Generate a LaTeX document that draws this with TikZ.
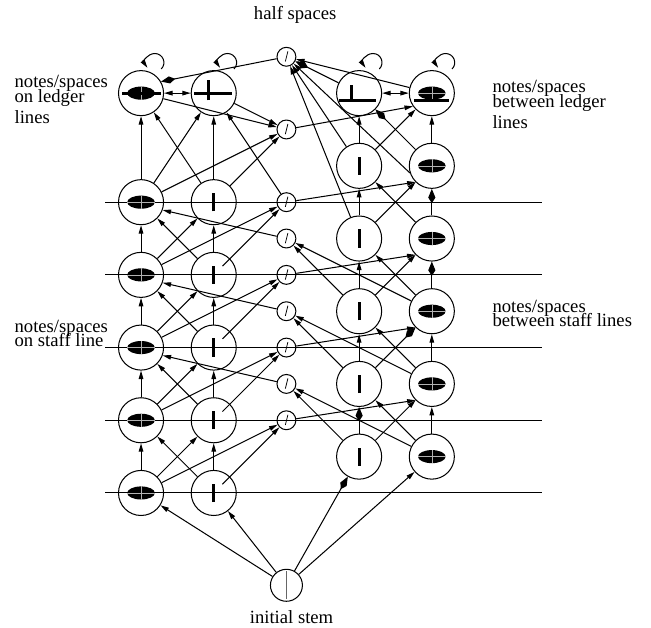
\documentclass[tikz,border=0pt]{standalone}
\usepackage{fontspec}
\setmainfont{Liberation Serif}
\usetikzlibrary{arrows.meta}

% glyphs drawn inside the state circles
\newcommand{\headgl}[2]{%
	\fill ([shift={(#1,#2)}]path picture bounding box.center) ellipse (0.19 and 0.09);
	\draw[black!30,line width=0.2pt] ([shift={(#1-0.19,#2)}]path picture bounding box.center) -- ++(0.38,0);
	\draw[black!30,line width=0.2pt] ([shift={(#1,#2-0.09)}]path picture bounding box.center) -- ++(0,0.18);}
\newcommand{\bargl}[4]{%
	\draw[line width=1.15pt] ([shift={(#1,#2)}]path picture bounding box.center) -- ([shift={(#3,#4)}]path picture bounding box.center);}
\newcommand{\tightlines}{\fontsize{7.3}{5.8}\selectfont\lineskiplimit -10pt\relax}
% small loop drawn over a ledger state, #1 = x of the state
\newcommand{\selfloop}[1]{%
	\draw (#1+0.278,5.832) .. controls (#1+0.357,5.911) and (#1+0.301,6.045) .. (#1+0.19,6.045)
		.. controls (#1+0.089,6.045) and (#1+0.030,5.931) .. (#1+0.088,5.848);}

\begin{document}
\begin{tikzpicture}[line width=0.4pt,
	circ/.style={draw,circle,minimum size=0.62cm,inner sep=0},
	nhead/.style={circ,path picture={\headgl{0}{0}}},
	nstem/.style={circ,path picture={\bargl{0}{-0.125}{0}{0.125}}},
	ledhead/.style={circ,path picture={\headgl{0}{0}\bargl{-0.26}{0}{0.28}{0}}},
	ledstem/.style={circ,path picture={\bargl{-0.27}{0}{0.255}{0}\bargl{-0.075}{-0.1}{-0.075}{0.18}}},
	bledstem/.style={circ,path picture={\bargl{-0.11}{-0.1}{-0.11}{0.11}\bargl{-0.275}{-0.1}{0.23}{-0.1}}},
	bledhead/.style={circ,path picture={\headgl{0}{0}\bargl{-0.24}{-0.1}{0.24}{-0.1}}},
	half/.style={draw,circle,minimum size=0.26cm,inner sep=0,path picture={\draw[line width=0.3pt] ([shift={(0.02,0.075)}]path picture bounding box.center) -- ([shift={(-0.015,-0.065)}]path picture bounding box.center);}},
	startst/.style={draw,circle,minimum size=0.44cm,inner sep=0,path picture={\draw[black!60,line width=0.3pt] ([shift={(0,-0.19)}]path picture bounding box.center) -- ++(0,0.38);}},
	lab/.style={font=\tightlines,align=left,inner sep=0},
	arr/.style={-{Triangle[length=3.3pt,width=1.8pt]}},
	karr/.style={-{Kite[length=5.6pt,width=2.8pt,inset=2.2pt]}},
	darr/.style={{Triangle[length=3.3pt,width=1.8pt]}-{Triangle[length=3.3pt,width=1.8pt]}}]
	
	\useasboundingbox (-1.94,-1.857) rectangle (7.015,6.781);
	
	%staff lines
	\draw (-0.495,0) -- (5.52,0);
	\draw (-0.495,1) -- (5.52,1);
	\draw (-0.495,2) -- (5.52,2);
	\draw (-0.495,3) -- (5.52,3);
	\draw (-0.495,4) -- (5.52,4);
	
	%ledger row
	\node[ledhead] (A0) at (0,5.5) {};
	\node[ledstem] (B0) at (1,5.5) {};
	\node[bledstem] (C0) at (3,5.5) {};
	\node[bledhead] (D0) at (4,5.5) {};
	%on the lines
	\node[nhead] (A1) at (0,4) {};
	\node[nhead] (A2) at (0,3) {};
	\node[nhead] (A3) at (0,2) {};
	\node[nhead] (A4) at (0,1) {};
	\node[nhead] (A5) at (0,0) {};
	\node[nstem] (B1) at (1,4) {};
	\node[nstem] (B2) at (1,3) {};
	\node[nstem] (B3) at (1,2) {};
	\node[nstem] (B4) at (1,1) {};
	\node[nstem] (B5) at (1,0) {};
	%between the lines
	\node[nstem] (C1) at (3,4.5) {};
	\node[nstem] (C2) at (3,3.5) {};
	\node[nstem] (C3) at (3,2.5) {};
	\node[nstem] (C4) at (3,1.5) {};
	\node[nstem] (C5) at (3,0.5) {};
	\node[nhead] (D1) at (4,4.5) {};
	\node[nhead] (D2) at (4,3.5) {};
	\node[nhead] (D3) at (4,2.5) {};
	\node[nhead] (D4) at (4,1.5) {};
	\node[nhead] (D5) at (4,0.5) {};
	%half spaces
	\node[half] (H0) at (2,6) {};
	\node[half] (H1) at (2,5) {};
	\node[half] (H2) at (2,4) {};
	\node[half] (H3) at (2,3.5) {};
	\node[half] (H4) at (2,3) {};
	\node[half] (H5) at (2,2.5) {};
	\node[half] (H6) at (2,2) {};
	\node[half] (H7) at (2,1.5) {};
	\node[half] (H8) at (2,1) {};
	\node[startst] (S) at (2,-1.27) {};
	
	%labels
	\node[lab,anchor=base] (halfl) at (2.12,6.506) {half spaces};
	\node[lab,anchor=base west] (ledgl) at (-1.746,5.085) {notes/spaces\\on ledger\\[2.3pt]lines};
	\node[lab,anchor=base west] (bledgl) at (4.828,5.02) {notes/spaces\\between ledger\\[2.3pt]lines};
	\node[lab,anchor=base west] (staffl) at (-1.746,2.008) {notes/spaces\\on staff line};
	\node[lab,anchor=base west] (bstaffl) at (4.828,2.283) {notes/spaces\\between staff lines};
	\node[lab,anchor=base] (initl) at (2.07,-1.80) {initial stem};
	
	\begin{scope}[arr]
	%edges from the initial stem
	\draw (S) -- (A5);
	\draw (S) -- (B5);
	\draw[karr] (S) -- (C5);
	\draw (S) -- (D5);
	%on the lines, upwards
	\draw (A1) -- (A0);
	\draw (A1) -- (B0);
	\draw (B1) -- (A0);
	\draw (B1) -- (B0);
	\draw (A2) -- (A1);
	\draw (A2) -- (B1);
	\draw (B2) -- (A1);
	\draw (B2) -- (B1);
	\draw (A3) -- (A2);
	\draw (A3) -- (B2);
	\draw (B3) -- (A2);
	\draw (B3) -- (B2);
	\draw (A4) -- (A3);
	\draw (A4) -- (B3);
	\draw (B4) -- (A3);
	\draw (B4) -- (B3);
	\draw (A5) -- (A4);
	\draw (A5) -- (B4);
	\draw (B5) -- (A4);
	\draw (B5) -- (B4);
	%into the half spaces on lines
	\draw (A0) -- (H1);
	\draw (B0) -- (H1);
	\draw (A1) -- (H1);
	\draw (B1) -- (H1);
	\draw (A2) -- (H2);
	\draw[shorten <=0.17cm] (B2.center) -- (H2);
	\draw (A3) -- (H4);
	\draw[shorten <=0.17cm] (B3.center) -- (H4);
	\draw (A4) -- (H6);
	\draw[shorten <=0.17cm] (B4.center) -- (H6);
	\draw (A5) -- (H8);
	\draw[shorten <=0.17cm] (B5.center) -- (H8);
	%out of the half spaces
	\draw[karr] (H0) -- (A0.30);
	\draw (H2) -- (B0);
	\draw (H3) -- (A1.-20);
	\draw (H5) -- (A2.-20);
	\draw (H7) -- (A3.-20);
	\draw (H1) -- (D0.215);
	\draw (H2) -- (D1.225);
	\draw (H4) -- (D2.225);
	\draw (H6) -- (D3.225);
	\draw (H8) -- (D4.225);
	%between the lines, upwards
	\draw (C1) -- (C0);
	\draw (C1) -- (D0);
	\draw[karr] (D1) -- (C0);
	\draw (D1) -- (D0);
	\draw (C2) -- (C1);
	\draw (C2) -- (D1);
	\draw (D2) -- (C1);
	\draw[karr] (D2) -- (D1);
	\draw (C3) -- (C2);
	\draw (C3) -- (D2);
	\draw (D3) -- (C2);
	\draw[karr] (D3) -- (D2);
	\draw (C4) -- (C3);
	\draw[karr] (C4) -- (D3);
	\draw (D4) -- (C3);
	\draw (D4) -- (D3);
	\draw[karr] (C5) -- (C4);
	\draw (C5) -- (D4);
	\draw (D5) -- (C4);
	\draw (D5) -- (D4);
	%into the half spaces between lines
	\draw[karr] (C0) -- (H0);
	\draw (D0) -- (H0);
	\draw (C1) -- (H0);
	\draw (D1.198) -- (H0);
	\draw (C2) -- (H0);
	\draw (C3) -- (H3);
	\draw (D3) -- (H3);
	\draw (C4) -- (H5);
	\draw (D4) -- (H5);
	\draw (C5) -- (H7);
	\draw (D5) -- (H7);
	%ledger row
	\draw[darr] (A0) -- (B0);
	\draw[darr] (C0) -- (D0);
	\selfloop{0}
	\selfloop{1}
	\selfloop{3}
	\selfloop{4}
	\end{scope}
\end{tikzpicture}
\end{document}
